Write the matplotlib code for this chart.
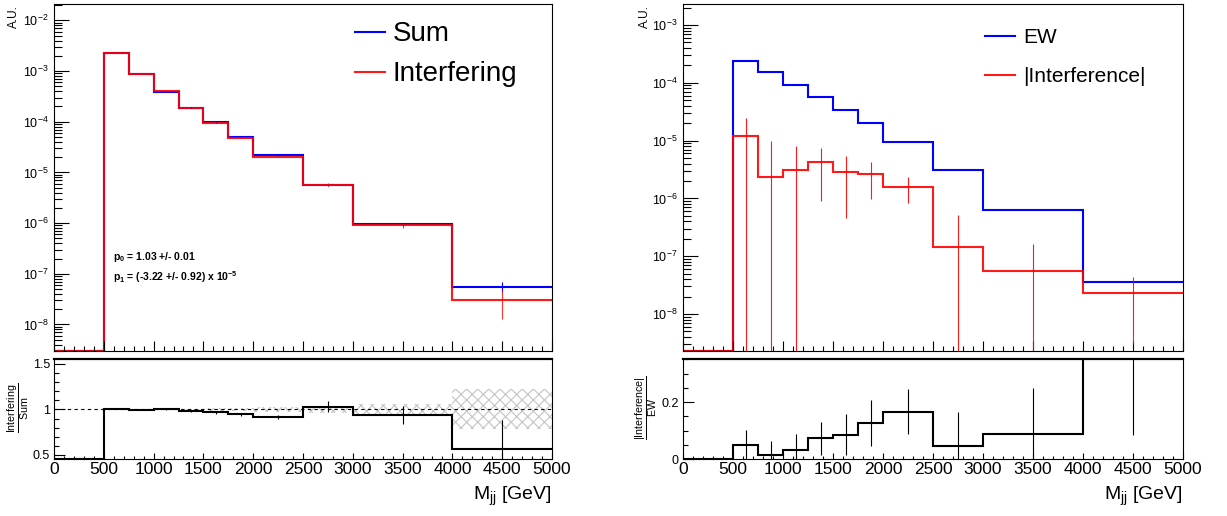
import numpy as np
import matplotlib
matplotlib.use('Agg')
import matplotlib.pyplot as plt
from matplotlib.ticker import LogLocator, MultipleLocator, FixedLocator, NullFormatter

plt.rcParams['font.family'] = ['Liberation Sans', 'DejaVu Sans']
plt.rcParams['mathtext.fontset'] = 'custom'
plt.rcParams['mathtext.rm'] = 'Liberation Sans'
plt.rcParams['mathtext.it'] = 'Liberation Sans:italic'
plt.rcParams['mathtext.bf'] = 'Liberation Sans:bold'
plt.rcParams['hatch.linewidth'] = 0.8

# ── Binning ─────────────────────────────────────────────
edges   = np.array([0, 500, 750, 1000, 1250, 1500, 1750, 2000, 2500, 3000, 4000, 5000])
centers = 0.5 * (edges[:-1] + edges[1:])

# ── Left: Sum vs Interfering ────────────────────────────
sum_vals = np.array([0, 2.28e-3, 8.7e-4, 3.93e-4, 1.9e-4, 9.75e-5, 5.1e-5, 2.2e-5, 5.6e-6, 9.5e-7, 5.6e-8])
int_vals = np.array([0, 2.28e-3, 8.65e-4, 3.95e-4, 1.86e-4, 9.4e-5, 4.82e-5, 2.02e-5, 5.75e-6, 9.0e-7, 3.1e-8])
int_errs = np.array([0, 8e-6, 4e-6, 2.4e-6, 1.5e-6, 1.4e-6, 1.2e-6, 5e-7, 3.4e-7, 9e-8, 1.8e-8])
sum_band = np.array([0, 0.003, 0.004, 0.005, 0.008, 0.012, 0.018, 0.025, 0.04, 0.065, 0.22])

ratio_l      = np.array([0, 1.005, 0.995, 1.005, 0.978, 0.967, 0.945, 0.92, 1.03, 0.938, 0.56])
ratio_l_errs = np.array([0, 0.004, 0.005, 0.006, 0.008, 0.013, 0.02, 0.02, 0.06, 0.10, 0.32])

# ── Right: EW vs |Interference| ─────────────────────────
ew_vals  = np.array([0, 2.38e-4, 1.56e-4, 9.3e-5, 5.7e-5, 3.4e-5, 2.04e-5, 9.6e-6, 3.1e-6, 6.4e-7, 3.6e-8])
ew_errs  = np.array([0, 1.5e-6, 1e-6, 6e-7, 4e-7, 3e-7, 2e-7, 8e-8, 3e-8, 8e-9, 8e-10])
ifr_vals = np.array([0, 1.2e-5, 2.37e-6, 3.05e-6, 4.2e-6, 2.9e-6, 2.61e-6, 1.6e-6, 1.46e-7, 5.6e-8, 2.3e-8])
ifr_errs = np.array([0, 1.25e-5, 7.4e-6, 5.0e-6, 3.3e-6, 2.45e-6, 1.65e-6, 7.5e-7, 3.7e-7, 1.04e-7, 2.0e-8])

ratio_r      = np.divide(ifr_vals, ew_vals, out=np.zeros_like(ifr_vals), where=ew_vals > 0)
ratio_r_errs = np.divide(ifr_errs, ew_vals, out=np.zeros_like(ifr_errs), where=ew_vals > 0)

BLUE = '#0000ff'; RED = '#ff0000'
YL_L = (3e-9, 2.1e-2)
YL_R = (2.3e-9, 2.3e-3)
YL_LR = (0.455, 1.555)

fig = plt.figure(figsize=(12.27, 5.16), dpi=100)
W, H = 1227., 516.
def box(x0, x1, ytop, ybot):
    return [x0 / W, 1 - ybot / H, (x1 - x0) / W, (ybot - ytop) / H]

axL  = fig.add_axes(box(54, 552, 4, 351))
axLr = fig.add_axes(box(54, 552, 359, 459))
axR  = fig.add_axes(box(683, 1183, 4, 351))
axRr = fig.add_axes(box(683, 1183, 359, 459))


def style_top(ax, ylim):
    ax.set_yscale('log')
    ax.set_xlim(0, 5000)
    ax.set_ylim(*ylim)
    ax.yaxis.set_major_locator(LogLocator(base=10, numticks=20))
    ax.yaxis.set_minor_locator(LogLocator(base=10, subs=np.arange(2, 10), numticks=20))
    ax.yaxis.set_minor_formatter(NullFormatter())
    ax.xaxis.set_major_locator(MultipleLocator(500))
    ax.xaxis.set_minor_locator(MultipleLocator(100))
    ax.tick_params(which='both', direction='in', top=False, right=False,
                   labelbottom=False, labelsize=9, width=0.8, pad=4)
    ax.tick_params(axis='y', which='major', length=11)
    ax.tick_params(axis='y', which='minor', length=5.5)
    ax.tick_params(axis='x', which='major', length=7)
    ax.tick_params(axis='x', which='minor', length=3.5)
    for sp in ax.spines.values():
        sp.set_linewidth(0.8)


def style_ratio(ax):
    ax.set_xlim(0, 5000)
    ax.xaxis.set_major_locator(MultipleLocator(500))
    ax.xaxis.set_minor_locator(MultipleLocator(100))
    ax.tick_params(which='both', direction='in', top=False, right=False, width=0.8)
    ax.tick_params(axis='x', which='major', length=4, labelsize=12.5, pad=2)
    ax.tick_params(axis='x', which='minor', length=2)
    ax.tick_params(axis='y', which='major', length=8, labelsize=9, pad=3)
    ax.tick_params(axis='y', which='minor', length=3.5)
    for sp in ax.spines.values():
        sp.set_linewidth(0.8)
    ax.spines['top'].set_linewidth(1.6)
    ax.set_xlabel(r'M$_{\mathrm{jj}}$ [GeV]', fontsize=14, loc='right', labelpad=6)


# ── Left upper ──────────────────────────────────────────
style_top(axL, YL_L)
axL.stairs(np.maximum(sum_vals, YL_L[0]), edges, baseline=None,
           color=BLUE, lw=1.5, label='Sum')
axL.errorbar(centers[1:], sum_vals[1:], yerr=sum_band[1:] * sum_vals[1:], fmt='none',
             ecolor=BLUE, elinewidth=0.8)
axL.stairs(np.maximum(int_vals, YL_L[0]), edges, baseline=None,
           color=RED, lw=1.5, alpha=0.9, label='Interfering')
axL.errorbar(centers[1:], int_vals[1:], yerr=int_errs[1:], fmt='none',
             ecolor=RED, elinewidth=0.8, alpha=0.8)
axL.legend(loc='upper left', bbox_to_anchor=(0.604, 0.95), frameon=False, fontsize=20,
           handlelength=1.1, handletextpad=0.25, labelspacing=0.5, borderpad=0,
           borderaxespad=0)
axL.text(0.118, 0.272, r'$\mathbf{p}_{\mathbf{0}}$ = 1.03 +/- 0.01', transform=axL.transAxes,
         fontsize=7.5, fontweight='bold', va='center')
axL.text(0.118, 0.214, r'$\mathbf{p}_{\mathbf{1}}$ = (-3.22 +/- 0.92) x 10$^{\mathbf{-5}}$',
         transform=axL.transAxes, fontsize=7.5, fontweight='bold', va='center')
fig.text(14 / W, 1 - 5 / H, 'A.U.', rotation=90, ha='center', va='top', fontsize=8.5)

# ── Left ratio ──────────────────────────────────────────
style_ratio(axLr)
axLr.set_ylim(*YL_LR)
axLr.yaxis.set_major_locator(FixedLocator([0.5, 1.0, 1.5]))
axLr.yaxis.set_minor_locator(MultipleLocator(0.1))
axLr.set_yticklabels(['0.5', '1', '1.5'])
axLr.stairs(1 + sum_band, edges, baseline=1 - sum_band, fill=True, hatch='xxx',
            facecolor='none', edgecolor='#c4c4c4', lw=0)
axLr.axhline(1, color='black', lw=0.8, ls=(0, (3, 3)))
axLr.stairs(np.maximum(ratio_l, YL_LR[0]), edges, baseline=None, color='black', lw=1.5)
axLr.errorbar(centers[1:], ratio_l[1:], yerr=ratio_l_errs[1:], fmt='none',
              ecolor='black', elinewidth=0.8)
fig.text(19 / W, 1 - 408 / H, r'$\frac{\mathrm{Interfering}}{\mathrm{Sum}}$', rotation=90,
         ha='center', va='center', fontsize=11)

# ── Right upper ─────────────────────────────────────────
style_top(axR, YL_R)
axR.stairs(np.maximum(ew_vals, YL_R[0]), edges, baseline=None,
           color=BLUE, lw=1.5, label='EW')
axR.errorbar(centers[1:], ew_vals[1:], yerr=ew_errs[1:], fmt='none',
             ecolor=BLUE, elinewidth=0.8)
axR.stairs(np.maximum(ifr_vals, YL_R[0]), edges, baseline=None,
           color=RED, lw=1.5, alpha=0.9, label='|Interference|')
axR.errorbar(centers[1:], ifr_vals[1:], yerr=ifr_errs[1:], fmt='none',
             ecolor=RED, elinewidth=0.8, alpha=0.9)
axR.legend(loc='upper left', bbox_to_anchor=(0.604, 0.93), frameon=False, fontsize=15,
           handlelength=1.45, handletextpad=0.37, labelspacing=0.95, borderpad=0,
           borderaxespad=0)
fig.text(645 / W, 1 - 5 / H, 'A.U.', rotation=90, ha='center', va='top', fontsize=8.5)

# ── Right ratio ─────────────────────────────────────────
style_ratio(axRr)
axRr.set_ylim(0, 0.351)
axRr.yaxis.set_major_locator(FixedLocator([0.0, 0.2]))
axRr.yaxis.set_minor_locator(MultipleLocator(0.05))
axRr.set_yticklabels(['0', '0.2'])
axRr.stairs(ratio_r, edges, baseline=None, color='black', lw=1.5)
axRr.errorbar(centers[1:], ratio_r[1:], yerr=ratio_r_errs[1:], fmt='none',
              ecolor='black', elinewidth=0.8)
fig.text(647 / W, 1 - 408 / H, r'$\frac{\mathrm{|Interference|}}{\mathrm{EW}}$', rotation=90,
         ha='center', va='center', fontsize=11)

fig.savefig('out.png', dpi=100)
